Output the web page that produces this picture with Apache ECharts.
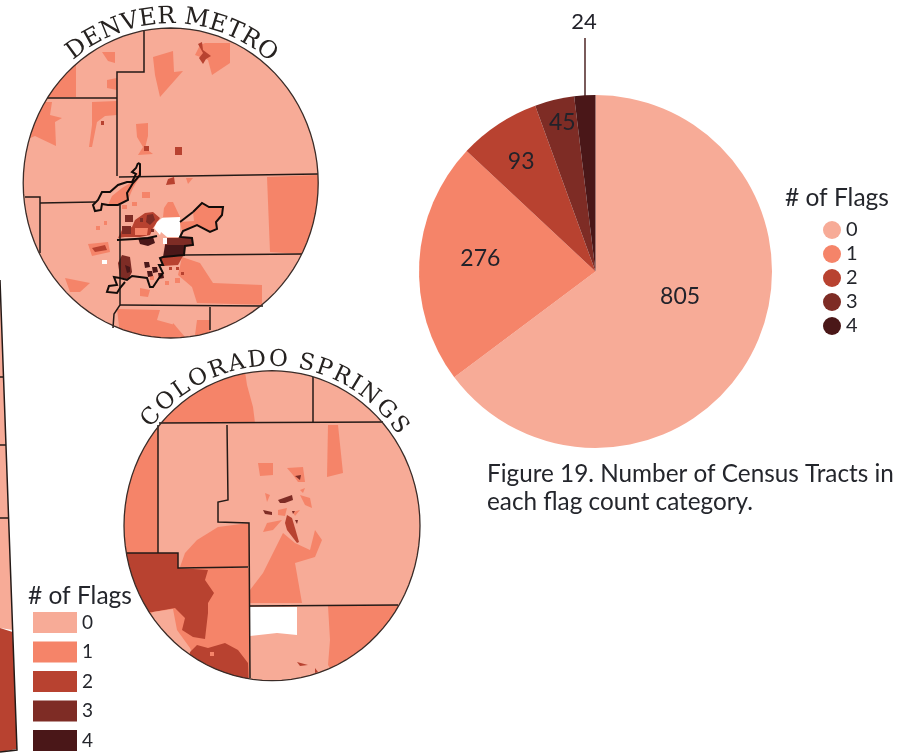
<!DOCTYPE html>
<html><head><meta charset="utf-8">
<style>html,body{margin:0;padding:0;background:#fff}#c{width:905px;height:754px;filter:blur(.55px)}</style>
<script src="https://cdn.jsdelivr.net/npm/echarts@6/dist/echarts.min.js"></script>
</head><body><div id="c"></div>
<script>
// ---- pie data ----
const flagCategories = ['0','1','2','3','4'];
const tractCounts = [805, 276, 93, 45, 24];
const flagColors = ['#F7AB97','#F58469','#B84230','#7E2C25','#4A1718'];
const NO_DATA = -1;

// ---- map data: [flag count, outline] in map units ----
const denverTracts = [
 [0,[[20,20],[325,20],[325,345],[20,345]]],
 [1,[[76,65],[76,97],[40,98],[40,65]]],
 [1,[[102,52],[115,52],[115,63],[108,61]]],
 [1,[[107,80],[117,78],[117,90],[107,88]]],
 [1,[[153,57],[173,51],[174,72],[183,71],[160,97],[155,75]]],
 [1,[[205,43],[230,43],[230,63],[212,75],[208,60],[195,55],[200,45]]],
 [2,[[198,44],[202,42],[203,50],[211,56],[206,59],[203,64],[199,58],[203,53]]],
 [1,[[43,102],[52,102],[50,115],[62,118],[55,122],[56,146],[35,136],[25,140]]],
 [1,[[92,102],[117,101],[117,115],[105,116],[97,122],[92,147],[89,147],[92,125]]],
 [2,[[101,121],[104,121],[104,125],[101,125]]],
 [1,[[136,124],[148,123],[148,136],[145,148],[153,154],[138,155],[143,147],[137,137]]],
 [2,[[144,146],[149,146],[149,151],[144,151]]],
 [2,[[175,147],[182,147],[182,155],[175,155]]],
 [2,[[168,179],[174,177],[175,184],[166,185]]],
 [1,[[186,178],[193,178],[188,184]]],
 [1,[[267,177],[320,175],[320,255],[300,254],[270,252]]],
 [1,[[132,182],[137,175],[141,165],[139,178],[133,188],[128,200],[118,205],[108,205],[112,196],[122,188]]],
 [1,[[193,212],[202,203],[209,207],[223,207],[222,215],[216,222],[217,229],[210,232],[197,225],[182,231],[180,222],[194,221]]],
 [1,[[168,202],[173,202],[180,217],[163,217],[164,208]]],
 [1,[[142,192],[150,192],[150,198],[142,198]]],
 [1,[[132,202],[137,202],[137,206],[132,206]]],
 [1,[[122,205],[127,205],[127,209],[122,209]]],
 [1,[[182,257],[200,263],[213,283],[262,285],[262,305],[197,303],[192,287],[178,275]]],
 [1,[[65,278],[90,283],[80,292],[70,292]]],
 [1,[[88,244],[108,242],[110,252],[92,256]]],
 [1,[[96,226],[100,226],[100,230],[96,230]]],
 [1,[[104,221],[107,221],[107,225],[104,225]]],
 [1,[[140,288],[150,290],[148,297],[140,296]]],
 [1,[[150,276],[154,276],[154,280],[150,280]]],
 [1,[[165,281],[169,281],[169,285],[165,285]]],
 [1,[[175,278],[180,278],[180,283],[175,283]]],
 [1,[[117,309],[160,310],[157,320],[175,325],[178,340],[120,335]]],
 [1,[[197,320],[210,320],[210,335],[195,335]]],
 [1,[[173,323],[185,337],[170,340]]],
 [2,[[92,248],[105,245],[107,250],[95,252]]],
 [2,[[145,213],[153,212],[160,218],[153,228],[150,235],[140,237],[125,237],[118,238],[122,230],[132,227],[135,220]]],
 [3,[[125,215],[133,215],[133,222],[125,222]]],
 [1,[[135,228],[148,228],[147,235],[135,235]]],
 [3,[[147,215],[153,214],[155,220],[150,225],[146,222]]],
 [3,[[140,218],[143,218],[143,222],[140,222]]],
 [3,[[122,226],[131,226],[131,234],[122,234]]],
 [3,[[151,229],[154,229],[154,232],[151,232]]],
 [4,[[138,238],[153,237],[155,243],[148,246],[140,244]]],
 [3,[[165,238],[193,238],[193,245],[165,245]]],
 [2,[[160,257],[183,256],[178,265],[163,266]]],
 [4,[[165,245],[185,245],[184,255],[163,257]]],
 [2,[[169,267],[172,267],[172,270],[169,270]]],
 [2,[[176,267],[179,267],[179,270],[176,270]]],
 [2,[[181,272],[184,272],[184,275],[181,275]]],
 [3,[[122,255],[130,257],[132,272],[128,280],[120,277],[118,263]]],
 [4,[[125,265],[130,267],[130,272],[127,273]]],
 [4,[[144,262],[149,262],[150,267],[145,268]]],
 [4,[[152,267],[157,267],[158,272],[153,273]]],
 [4,[[147,271],[152,271],[153,276],[148,277]]],
 [4,[[158,273],[163,273],[164,278],[159,279]]],
 [NO_DATA,[[162,218],[180,217],[180,237],[167,237],[161,232],[160,235],[154,228],[157,222]]],
 [NO_DATA,[[163,238],[167,238],[167,244],[163,244]]],
 [NO_DATA,[[102,260],[107,260],[107,264],[102,264]]]
];
const springsTracts = [
 [0,[[120,365],[425,365],[425,685],[120,685]]],
 [1,[[150,423],[255,423],[253,407],[247,385],[244,365],[150,365]]],
 [1,[[120,423],[158,423],[158,553],[120,553]]],
 [1,[[178,568],[249,568],[249,685],[150,685],[140,612]]],
 [2,[[120,553],[178,553],[178,568],[208,570],[205,580],[214,593],[208,603],[208,613],[205,639],[193,637],[182,630],[185,618],[175,608],[153,612],[120,612]]],
 [0,[[153,612],[173,609],[177,630],[190,648],[195,660],[165,650],[140,625]]],
 [2,[[190,652],[197,645],[208,648],[225,643],[238,650],[248,663],[249,690],[225,690],[180,670]]],
 [1,[[210,652],[214,652],[214,656],[210,656]]],
 [1,[[218,527],[249,523],[249,567],[180,567],[185,553],[197,540]]],
 [1,[[283,533],[295,543],[310,550],[315,530],[322,540],[315,557],[295,563],[302,603],[250,603],[250,590],[263,573],[273,553]]],
 [1,[[328,425],[338,425],[343,473],[327,477]]],
 [1,[[258,463],[273,463],[273,475],[260,476]]],
 [1,[[287,468],[303,467],[305,482],[298,482],[293,475]]],
 [3,[[295,476],[301,475],[300,480]]],
 [1,[[265,493],[270,495],[267,502]]],
 [3,[[278,500],[292,495],[293,500],[285,503],[280,503]]],
 [3,[[263,510],[272,512],[272,515],[265,514]]],
 [1,[[278,510],[287,508],[285,516],[278,515]]],
 [1,[[267,523],[282,520],[273,530],[263,532]]],
 [1,[[300,495],[310,498],[312,508],[305,505]]],
 [1,[[300,490],[305,488],[303,493]]],
 [1,[[293,512],[300,510],[295,516]]],
 [2,[[287,515],[292,518],[295,528],[299,542],[297,543],[287,530],[285,523]]],
 [3,[[292,511],[295,511],[293,514]]],
 [3,[[295,520],[298,520],[297,524]]],
 [1,[[328,606],[405,605],[405,670],[333,672],[328,665],[330,640]]],
 [NO_DATA,[[250,607],[297,607],[297,635],[277,633],[250,636]]],
 [2,[[297,662],[308,665],[300,666]]],
 [2,[[315,668],[318,672],[315,673]]]
];
const neighbourTracts = [
 [0,[[0,280],[12.6,630],[0,628]]],
 [2,[[0,628],[12.6,632],[17,749],[0,752]]]
];
const denverBoundaries = [
 [[144,30],[144,72],[117,72],[117,176]],
 [[47,98],[117,98]],
 [[119,177],[318,174]],
 [[40,203],[95,202]],
 [[25,197],[40,197],[40,253]],
 [[120,205],[120,305],[114,314],[113,328]],
 [[184,255],[302,254]],
 [[120,305],[263,306]],
 [[210,307],[210,330]]
];
const denverCityLimits = [
 [[138,163],[136,168],[132,172],[136,174],[132,182],[127,182],[118,185],[110,192],[102,192],[98,200],[93,205],[95,211],[101,210],[102,204],[108,205],[118,205],[128,200],[127,193],[133,183],[140,175],[140,164],[138,163]],
 [[193,212],[202,203],[209,207],[223,207],[222,215],[216,222],[217,229],[210,232],[197,225],[183,231],[180,237],[192,238],[193,245],[185,246],[184,255],[163,257],[160,258],[163,265],[159,265],[163,273],[159,278],[153,287],[150,287],[147,278],[132,276],[127,280],[120,278],[114,277],[117,285],[109,286],[107,292],[117,293],[120,288],[125,282]],
 [[180,222],[193,212]],
 [[117,240],[135,239],[148,238],[157,236]]
];
const springsBoundaries = [
 [[159,423],[383,422]],
 [[313,377],[313,422]],
 [[158,425],[158,553]],
 [[127,553],[178,553],[178,568],[248,567]],
 [[227,425],[228,500],[218,502],[218,522],[249,523],[250,678]],
 [[250,606],[398,605]]
];
const neighbourBoundaries = [
 [[0,377],[3.5,377]],
 [[0,445],[6,445]],
 [[0,518],[8.6,518]],
 [[0,280],[17,750],[0,752]]
];
const mapFrames = [
 {name:'denver', title:'DENVER METRO', cx:170.7, cy:183, rx:147.5, ry:155, from:-40, to:41, font:'24px "DejaVu Serif"'},
 {name:'springs', title:'COLORADO SPRINGS', cx:272, cy:525.7, rx:148, ry:155, from:-53, to:56, font:'23px "DejaVu Serif"'}
];

// ---- helpers ----
function frameOutline(f){
  const pts=[];
  for(let i=0;i<96;i++){const a=i/96*Math.PI*2;pts.push([f.cx+f.rx*Math.cos(a),f.cy+f.ry*Math.sin(a)]);}
  return pts;
}
function clipToFrame(poly,frame){
  let out=poly;
  for(let i=0;i<frame.length;i++){
    const a=frame[i],b=frame[(i+1)%frame.length];
    const side=p=>(b[0]-a[0])*(p[1]-a[1])-(b[1]-a[1])*(p[0]-a[0]);
    const next=[];
    for(let j=0;j<out.length;j++){
      const p=out[j],q=out[(j+1)%out.length],sp=side(p),sq=side(q);
      if(sp>=0)next.push(p);
      if(sp*sq<0){const t=sp/(sp-sq);next.push([p[0]+t*(q[0]-p[0]),p[1]+t*(q[1]-p[1])]);}
    }
    out=next;
    if(!out.length)break;
  }
  return out;
}
const features=[],mapData=[];
function addTracts(key,list,frame){
  list.forEach((t,i)=>{
    const ring=frame?clipToFrame(t[1],frame):t[1];
    if(ring.length<3)return;
    const name=key+'-'+i;
    features.push({type:'Feature',properties:{name},geometry:{type:'Polygon',coordinates:[ring.concat([ring[0]])]}});
    mapData.push({name,value:t[0]});
  });
}
const frameD=frameOutline(mapFrames[0]),frameS=frameOutline(mapFrames[1]);
addTracts('n',neighbourTracts,null);
addTracts('d',denverTracts,frameD);
addTracts('s',springsTracts,frameS);
echarts.registerMap('colorado',{type:'FeatureCollection',features});

const lineData=[...denverBoundaries,...springsBoundaries,...neighbourBoundaries].map(c=>({coords:c}));
const cityData=denverCityLimits.map(c=>({coords:c}));
const frameData=[frameD,frameS].map(f=>({coords:f.concat([f[0]])}));

// curved titles
const meas=document.createElement('canvas').getContext('2d');
const titleLetters=[];
mapFrames.forEach(f=>{
  meas.font=f.font;
  const chars=f.title.split(''),w=chars.map(c=>meas.measureText(c).width),tot=w.reduce((a,b)=>a+b,0);
  let acc=0;
  chars.forEach((c,i)=>{
    const t=(f.from+(f.to-f.from)*(acc+w[i]/2)/tot)*Math.PI/180;acc+=w[i];
    titleLetters.push({type:'text',z:50,silent:true,
      x:f.cx+(f.rx+11)*Math.sin(t),y:f.cy-(f.ry+11)*Math.cos(t),rotation:-t,
      style:{text:c,font:f.font,fill:'#262220',align:'center',verticalAlign:'middle'}});
  });
});

const SANS='Lato';
const INK='#24262c';
const chart=echarts.init(document.getElementById('c'),null,{renderer:'canvas'});
const labelShift=[[3,-16],[-24,-8],[-24,-34],[-12,-60]];
chart.setOption({
  animation:false,backgroundColor:'#fff',
  title:[
    {text:'# of Flags',left:785,top:186,padding:0,textStyle:{fontFamily:SANS,fontSize:24.5,fontWeight:'normal',color:INK}},
    {text:'# of Flags',left:28,top:584,padding:0,textStyle:{fontFamily:SANS,fontSize:24.5,fontWeight:'normal',color:INK}},
    {text:'Figure 19. Number of Census Tracts in\neach flag count category.',left:487,top:460,padding:0,
     textStyle:{fontFamily:SANS,fontSize:24.3,fontWeight:'normal',color:INK,lineHeight:28}}
  ],
  legend:[
    {data:flagCategories,orient:'vertical',left:823,top:220,padding:0,icon:'circle',itemWidth:18,itemHeight:18,itemGap:4,itemStyle:{borderWidth:0},selectedMode:false,
     textStyle:{fontFamily:SANS,fontSize:20,color:INK}},
    {data:flagCategories,orient:'vertical',left:33,top:612,padding:0,icon:'rect',itemWidth:44,itemHeight:21,itemGap:8.5,itemStyle:{borderWidth:0},selectedMode:false,
     textStyle:{fontFamily:SANS,fontSize:19,color:INK}}
  ],
  visualMap:{type:'piecewise',show:false,seriesIndex:1,
    pieces:[{value:NO_DATA,color:'#fff'}].concat(flagColors.map((c,i)=>({value:i,color:c})))},
  geo:{map:'colorado',projection:{project:p=>p,unproject:p=>p},boundingCoords:[[0,0],[905,754]],
    left:0,top:0,width:905,height:754,aspectScale:1,roam:false,silent:true,
    itemStyle:{areaColor:'#fff',borderWidth:0},emphasis:{disabled:true},select:{disabled:true}},
  series:[
    {type:'pie',center:[595.5,271.5],radius:[0,176.5],startAngle:90,clockwise:true,silent:true,
     emphasis:{disabled:true},
     data:flagCategories.map((n,i)=>({name:n,value:tractCounts[i],itemStyle:{color:flagColors[i]},
       labelLine:{show:i===4,lineStyle:{color:'#6b4a4a',width:1.8}},
       label:i<4?{position:'inside',offset:labelShift[i]}:{position:'outside',fontSize:22}})),
     label:{show:true,formatter:'{c}',fontFamily:SANS,fontSize:23,color:'#22222a'},
     labelLayout:p=>p.dataIndex===4?{x:584,y:22,align:'center',verticalAlign:'middle',
        labelLinePoints:[[585,96],[585,38],[585,38]]}:{}
    },
    {type:'map',geoIndex:0,data:mapData,silent:true},
    {type:'lines',coordinateSystem:'geo',geoIndex:0,polyline:true,silent:true,z:5,data:lineData,
     lineStyle:{color:'#241a17',width:1.5,opacity:1}},
    {type:'lines',coordinateSystem:'geo',geoIndex:0,polyline:true,silent:true,z:5,data:cityData,
     lineStyle:{color:'#120c0a',width:2,opacity:1}},
    {type:'lines',coordinateSystem:'geo',geoIndex:0,polyline:true,silent:true,z:6,data:frameData,
     lineStyle:{color:'#3a2c28',width:1.3,opacity:1}}
  ],
  graphic:titleLetters
});
</script></body></html>
